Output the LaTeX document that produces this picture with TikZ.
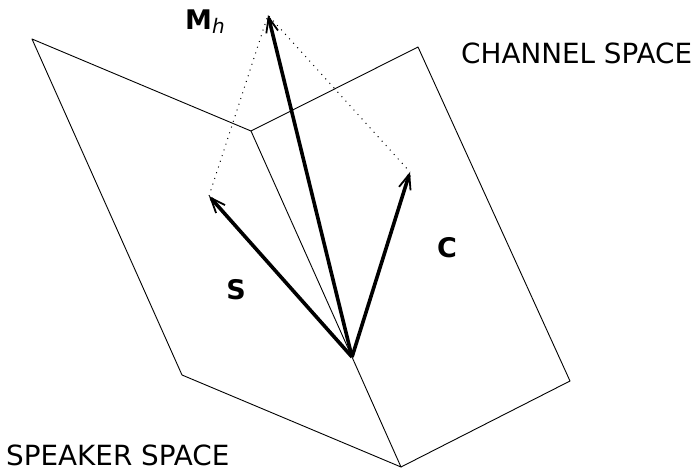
\documentclass[tikz,border=0pt]{standalone}
\usepackage{fontspec}
\setmainfont{DejaVu Sans}
\usetikzlibrary{arrows.meta}
\begin{document}
\begin{tikzpicture}[x=1pt,y=-1pt,
  plane/.style={line width=0.9pt,line join=round},
  vec/.style={line width=3.6pt,-{Straight Barb[length=15pt,width=12pt,line width=1.8pt]}},
  guide/.style={line width=1pt,dash pattern=on 1pt off 5pt},
  lab/.style={font=\fontsize{27.8}{30}\selectfont,inner sep=0pt},
  blab/.style={font=\fontsize{27}{30}\selectfont\bfseries,inner sep=0pt}]
\useasboundingbox (0,0) rectangle (694,468);
\coordinate (O) at (352,357);
\coordinate (A) at (32,39);
\coordinate (B) at (251,131);
\coordinate (D) at (182,375);
\coordinate (E) at (401,467);
\coordinate (F) at (418,47);
\coordinate (G) at (570,381);
\coordinate (Stip) at (209,196);
\coordinate (Ctip) at (410,172);
\coordinate (Mtip) at (268,15);
\draw[plane] (O) -- (B) -- (A) -- (D) -- (E) -- (O);
\draw[plane] (B) -- (F) -- (G) -- (E);
\draw[guide] (Stip) -- (Mtip) -- (Ctip);
\draw[vec] (O) -- (Stip);
\draw[vec] (O) -- (Ctip);
\draw[vec] (O) -- (Mtip);
\node[lab,anchor=base west] (cs) at (461,64) {CHANNEL SPACE};
\node[lab,anchor=base west] (ss) at (6,465.5) {SPEAKER SPACE};
\node[blab,anchor=base] (s) at (236,299) {S};
\node[blab,anchor=base] (c) at (447,258) {C};
\node[inner sep=0pt,anchor=base west] (m) at (185,30) {\fontsize{27}{30}\selectfont\bfseries M\fontsize{20}{22}\selectfont\raisebox{-4pt}{\mdseries\itshape h}};
\end{tikzpicture}
\end{document}
